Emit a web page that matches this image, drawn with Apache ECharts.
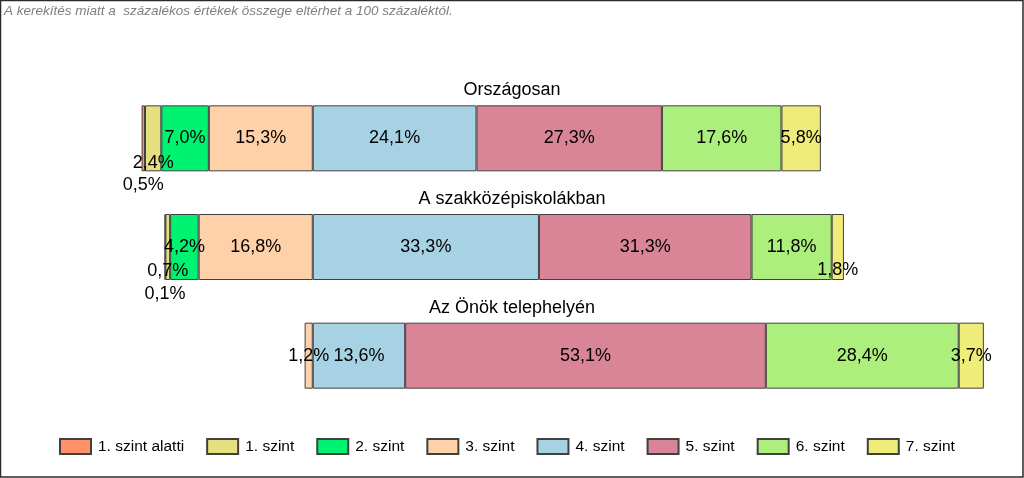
<!DOCTYPE html>
<html>
<head>
<meta charset="utf-8">
<script src="https://cdn.jsdelivr.net/npm/echarts@6.0.0/dist/echarts.min.js"></script>
<style>
html,body{margin:0;padding:0;background:#fff;}
#chart{width:1024px;height:478px;}
</style>
</head>
<body>
<div id="chart"></div>
<script>
const note = 'A kerekítés miatt a  százalékos értékek összege eltérhet a 100 százaléktól.';
const categories = ['Országosan', 'A szakközépiskolákban', 'Az Önök telephelyén'];
const levels = ['1. szint alatti', '1. szint', '2. szint', '3. szint', '4. szint', '5. szint', '6. szint', '7. szint'];
const lvlBelow1 = [0.5, 0.1, null];
const lvl1 = [2.4, 0.7, null];
const lvl2 = [7.0, 4.2, null];
const lvl3 = [15.3, 16.8, 1.2];
const lvl4 = [24.1, 33.3, 13.6];
const lvl5 = [27.3, 31.3, 53.1];
const lvl6 = [17.6, 11.8, 28.4];
const lvl7 = [5.8, 1.8, 3.7];
const colors = ['#FF9068', '#E6DF80', '#00F271', '#FFD1A8', '#A6D2E3', '#D98497', '#ADEF7C', '#F0EC7A'];

const values = [lvlBelow1, lvl1, lvl2, lvl3, lvl4, lvl5, lvl6, lvl7];
// levels below 4 are drawn to the left of zero
const negative = [true, true, true, true, false, false, false, false];
// label offsets for small segments (style)
const labelOffsets = {'0_0': [0, 47], '1_0': [0, 25], '0_1': [0, 47], '1_1': [0, 24], '7_1': [0, 23]};
const FONT = '"Liberation Sans", Arial, sans-serif';

function fmt(v) { return Math.abs(v).toFixed(1).replace('.', ',') + '%'; }

const order = [3, 2, 1, 0, 4, 5, 6, 7];
const series = order.map(function (li) {
  return {
    name: levels[li],
    type: 'bar',
    stack: 'total',
    barWidth: 66,
    itemStyle: {color: colors[li], borderColor: '#404040', borderWidth: 1},
    label: {
      show: true, position: 'inside', color: '#000', fontSize: 18, fontFamily: FONT,
      formatter: function (p) { return fmt(p.value); }
    },
    emphasis: {disabled: true},
    data: values[li].map(function (v, ri) {
      if (v === null) return null;
      const item = {value: negative[li] ? -v : v};
      const off = labelOffsets[li + '_' + ri];
      if (off) item.label = {offset: off};
      return item;
    })
  };
});

const chart = echarts.init(document.getElementById('chart'), null, {renderer: 'canvas'});
chart.setOption({
  backgroundColor: '#fff',
  animation: false,
  grid: {left: 109, width: 883, top: 84, height: 326},
  xAxis: {type: 'value', min: -30, max: 100, show: false},
  yAxis: {type: 'category', data: categories, inverse: true, show: false},
  legend: {
    data: levels, left: 59, top: 438, padding: 0, icon: 'rect', itemWidth: 31, itemHeight: 15, itemGap: 22,
    textStyle: {fontSize: 15.5, color: '#000', fontFamily: FONT, padding: [0, 0, 0, 2]}
  },
  series: series
});

const graphics = [
  {type: 'rect', shape: {x: 0.5, y: 0.5, width: 1022.5, height: 476.5}, style: {fill: 'none', stroke: '#2b2b2b', lineWidth: 1.5}, silent: true},
  {type: 'text', x: 4, y: 4, style: {text: note, fill: '#7f7f7f', font: 'italic 13.5px ' + FONT}, silent: true}
];
categories.forEach(function (c) {
  const y = chart.convertToPixel({yAxisIndex: 0}, c);
  graphics.push({type: 'text', x: 512, y: y - 48, style: {text: c, fill: '#000', font: '18px ' + FONT, align: 'center', verticalAlign: 'middle'}, silent: true});
});
chart.setOption({graphic: graphics});
</script>
</body>
</html>
